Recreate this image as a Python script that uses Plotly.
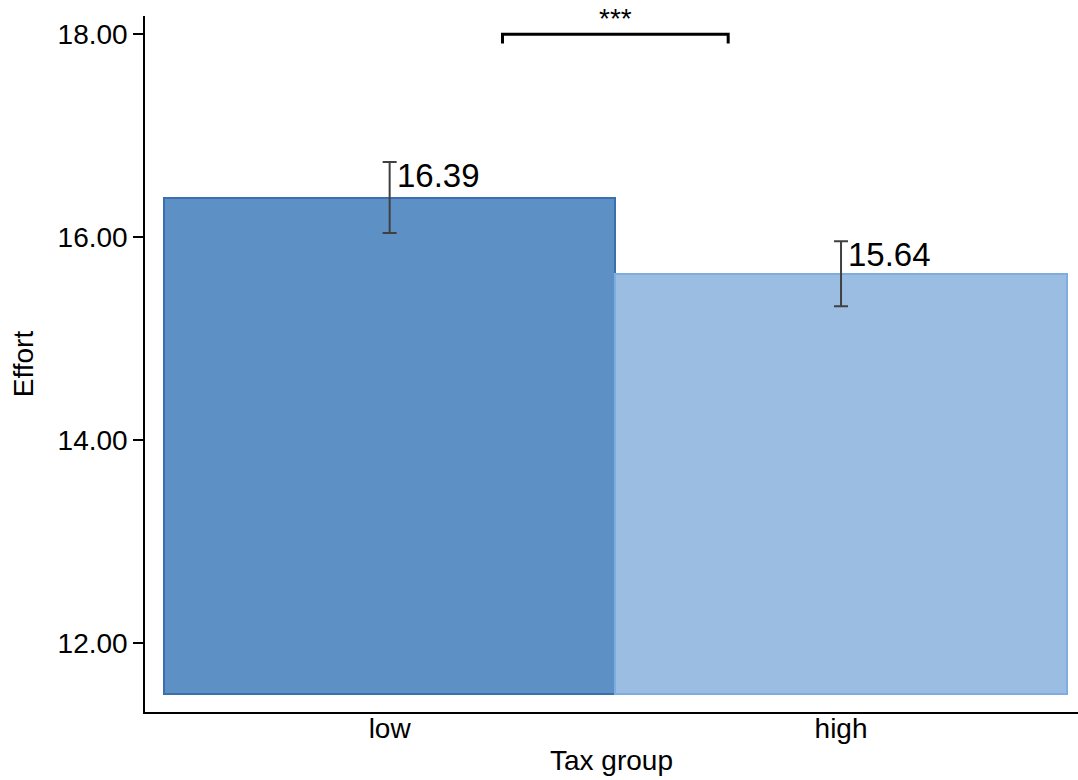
import plotly.graph_objects as go

# Tax-group effort means with standard errors
groups = ["low", "high"]
effort_mean = [16.39, 15.64]
effort_err = [0.35, 0.32]
bar_base = 11.5

# Significance marker between the two groups
sig_label = "***"
sig_level = 18.0
sig_drop = 0.09

fill_colors = ["#5d91c6", "#9bbde2"]
edge_colors = ["#3a70b2", "#7eaee0"]
font_family = "Liberation Sans, Arial, sans-serif"

fig = go.Figure()

fig.add_trace(go.Bar(
    x=groups,
    y=[m - bar_base for m in effort_mean],
    base=bar_base,
    width=1.0,
    marker=dict(color=fill_colors, line=dict(color=edge_colors, width=2)),
    showlegend=False,
    hoverinfo="skip",
))

fig.add_trace(go.Scatter(
    x=groups,
    y=effort_mean,
    mode="markers",
    marker=dict(size=1, opacity=0),
    error_y=dict(type="data", array=effort_err, visible=True,
                 color="#404040", thickness=2, width=7),
    showlegend=False,
    hoverinfo="skip",
))

# Value labels placed to the right of each error bar's top
for i, (m, e) in enumerate(zip(effort_mean, effort_err)):
    fig.add_annotation(
        x=i, y=m + e, xref="x", yref="y",
        text=f"{m:.2f}", showarrow=False,
        xanchor="left", yanchor="top", xshift=5, yshift=7,
        font=dict(family=font_family, size=33, color="black"),
    )

# Significance bracket spanning the midpoints of the two bars
x0, x1 = 0.25, 0.75
fig.add_shape(
    type="path", xref="x", yref="y",
    path=f"M {x0},{sig_level - sig_drop} L {x0},{sig_level} "
         f"L {x1},{sig_level} L {x1},{sig_level - sig_drop}",
    line=dict(color="black", width=3),
)
fig.add_annotation(
    x=(x0 + x1) / 2, y=sig_level, xref="x", yref="y",
    text=sig_label, showarrow=False, yanchor="bottom", yshift=-2,
    font=dict(family=font_family, size=28, color="black"),
)

fig.update_layout(
    width=1078, height=780,
    margin=dict(l=145, r=0, t=16, b=68),
    paper_bgcolor="white", plot_bgcolor="white",
    font=dict(family=font_family, size=28, color="black"),
    bargap=0,
)

fig.update_xaxes(
    type="category",
    range=[-0.542, 1.525],
    showline=True, linecolor="black", linewidth=1.5,
    ticks="", showgrid=False, zeroline=False,
    ticklabelstandoff=-9,
    tickfont=dict(size=28),
    title=dict(text="Tax group", font=dict(size=28), standoff=7),
)

fig.update_yaxes(
    range=[11.32, 18.18],
    tickvals=[12, 14, 16, 18],
    tickformat=".2f",
    ticks="outside", ticklen=10, tickwidth=1.5, tickcolor="black",
    showline=True, linecolor="black", linewidth=1.5,
    showgrid=False, zeroline=False,
    tickfont=dict(size=28),
    title=dict(text="Effort", font=dict(size=28), standoff=16),
)

fig.write_html("out.html")
